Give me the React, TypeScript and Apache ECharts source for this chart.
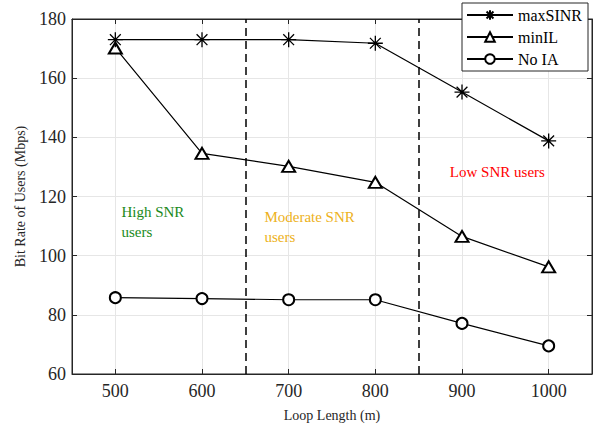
import React, { useEffect, useRef } from "react";
import * as echarts from "echarts";

const loopLengths = [500, 600, 700, 800, 900, 1000];
const maxSINR = [173, 173, 173, 171.8, 155.3, 138.8];
const minIL = [170.2, 134.6, 130.2, 124.8, 106.5, 96.2];
const noIA = [85.8, 85.5, 85.1, 85.1, 77.1, 69.5];
const regionBoundaries = [650, 850];
const regionLabels = [
  { text: "High SNR\nusers", x: 507, y: 111.5, color: "#1a8a1a" },
  { text: "Moderate SNR\nusers", x: 672, y: 109.6, color: "#EDB120" },
  { text: "Low SNR users", x: 886, y: 128.2, color: "#ff0000" },
];

const FONT = "'Liberation Serif', 'Times New Roman', serif";
const ASTERISK =
  "path://M-1,0L1,0M0,-1L0,1M-0.72,-0.72L0.72,0.72M-0.72,0.72L0.72,-0.72";

export default function App() {
  const ref = useRef<HTMLDivElement>(null);
  useEffect(() => {
    document.body.style.margin = "0";
    const chart = echarts.init(ref.current!, null, { renderer: "svg" });
    const pairs = (ys: number[]) => loopLengths.map((x, i) => [x, ys[i]]);
    const lineBase = {
      type: "line" as const,
      lineStyle: { color: "#000", width: 1.2 },
      showAllSymbol: true,
    };
    const fmt = (v: number) => String(v);
    chart.setOption({
      animation: false,
      backgroundColor: "#fff",
      textStyle: { fontFamily: FONT },
      grid: {
        left: 72,
        right: 3,
        top: 19,
        bottom: 51,
        show: true,
        borderColor: "#262626",
        borderWidth: 1,
      },
      legend: {
        orient: "vertical",
        right: 7,
        top: 3,
        backgroundColor: "#fff",
        borderColor: "#262626",
        borderWidth: 1,
        padding: [4, 6, 4, 4],
        itemGap: 6,
        itemWidth: 46,
        itemHeight: 12,
        textStyle: { fontFamily: FONT, fontSize: 16, color: "#000" },
        data: ["maxSINR", "minIL", "No IA"],
      },
      xAxis: [
        {
          type: "value",
          min: 450,
          max: 1050,
          splitNumber: 6,
          name: "Loop Length (m)",
          nameLocation: "middle",
          nameGap: 34,
          nameTextStyle: { fontFamily: FONT, fontSize: 14, color: "#262626" },
          axisLine: { lineStyle: { color: "#262626" } },
          axisTick: { inside: true, length: 5, lineStyle: { color: "#262626" } },
          axisLabel: {
            showMinLabel: false,
            showMaxLabel: false,
            formatter: fmt,
            fontFamily: FONT,
            fontSize: 18,
            color: "#262626",
            margin: 8,
          },
          splitLine: { show: true, lineStyle: { color: "#e6e6e6" } },
        },
        {
          type: "value",
          position: "top",
          min: 450,
          max: 1050,
          splitNumber: 6,
          axisLine: { lineStyle: { color: "#262626" } },
          axisTick: { inside: true, length: 5, lineStyle: { color: "#262626" } },
          axisLabel: { show: false },
          splitLine: { show: false },
        },
      ],
      yAxis: [
        {
          type: "value",
          min: 60,
          max: 180,
          interval: 20,
          name: "Bit Rate of Users (Mbps)",
          nameLocation: "middle",
          nameGap: 45,
          nameTextStyle: { fontFamily: FONT, fontSize: 14, color: "#262626" },
          axisLine: { show: true, lineStyle: { color: "#262626" } },
          axisTick: { show: true, inside: true, length: 5, lineStyle: { color: "#262626" } },
          axisLabel: { formatter: fmt, fontFamily: FONT, fontSize: 18, color: "#262626", margin: 6 },
          splitLine: { show: true, lineStyle: { color: "#e6e6e6" } },
        },
        {
          type: "value",
          position: "right",
          min: 60,
          max: 180,
          interval: 20,
          axisLine: { show: true, lineStyle: { color: "#262626" } },
          axisTick: { show: true, inside: true, length: 5, lineStyle: { color: "#262626" } },
          axisLabel: { show: false },
          splitLine: { show: false },
        },
      ],
      series: [
        {
          ...lineBase,
          name: "maxSINR",
          data: pairs(maxSINR),
          symbol: ASTERISK,
          symbolSize: 15,
          itemStyle: { color: "#000", borderColor: "#000", borderWidth: 1.3 },
          z: 3,
          markLine: {
            silent: true,
            symbol: "none",
            label: { show: false },
            lineStyle: { color: "#000", type: [8, 5], width: 1.5 },
            data: regionBoundaries.map((v) => ({ xAxis: v })),
          },
          markPoint: {
            silent: true,
            symbol: "circle",
            symbolSize: 0,
            data: regionLabels.map((r) => ({
              coord: [r.x, r.y],
              label: {
                show: true,
                position: "right",
                distance: 0,
                formatter: r.text,
                color: r.color,
                fontFamily: FONT,
                fontSize: 15,
                lineHeight: 20,
                align: "left",
              },
            })),
          },
        },
        {
          ...lineBase,
          name: "minIL",
          data: pairs(minIL),
          symbol: "emptyTriangle",
          symbolSize: [13, 11],
          itemStyle: { color: "#000", borderColor: "#000", borderWidth: 1.2 },
          z: 2,
        },
        {
          ...lineBase,
          name: "No IA",
          data: pairs(noIA),
          symbol: "emptyCircle",
          symbolSize: 11,
          itemStyle: { color: "#000", borderColor: "#000", borderWidth: 1.2 },
          z: 2,
        },
      ],
    });
    return () => chart.dispose();
  }, []);
  return <div ref={ref} style={{ width: 595, height: 427 }} />;
}
